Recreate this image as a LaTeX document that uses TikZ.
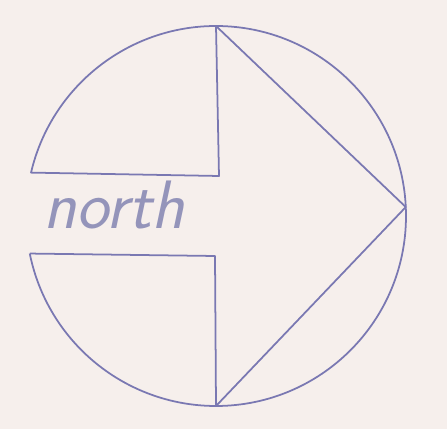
\documentclass[tikz,border=0pt]{standalone}
\usepackage{tikz}
\usetikzlibrary{calc}
\usepackage{xcolor}
\definecolor{paper}{HTML}{F6EFEC}
\definecolor{ink}{HTML}{7A78B2}
\definecolor{pencil}{HTML}{9494BA}

\begin{document}
\begin{tikzpicture}[
  x=0.02cm, y=0.02cm,
  outline/.style={draw=ink, line width=1pt, line join=round},
  label/.style={text=pencil, font=\sffamily\itshape\fontsize{39}{39}\selectfont, inner sep=0pt}
]

\fill[paper] (0,0) rectangle (447,429);
\useasboundingbox (0,0) rectangle (447,429);

\coordinate (c) at (216,213);
\coordinate (top) at ($(c)+(90:190)$);
\coordinate (bot) at ($(c)+(270:190)$);
\coordinate (tip) at ($(c)+(2.7:190)$);
\coordinate (ul) at ($(c)+(166.8:190)$);
\coordinate (ll) at ($(c)+(191.4:190)$);
\coordinate (ui) at (219,253);
\coordinate (li) at (215,173);

\draw[outline] (top) arc[start angle=90, end angle=166.8, radius=190] -- (ui) -- (top);
\draw[outline] (ll) arc[start angle=191.4, end angle=270, radius=190] -- (li) -- (ll);
\draw[outline] (bot) arc[start angle=-90, end angle=90, radius=190];
\draw[outline] (top) -- (tip) -- (bot);

\node[label] (name) at (114,224) {north};

\end{tikzpicture}
\end{document}
